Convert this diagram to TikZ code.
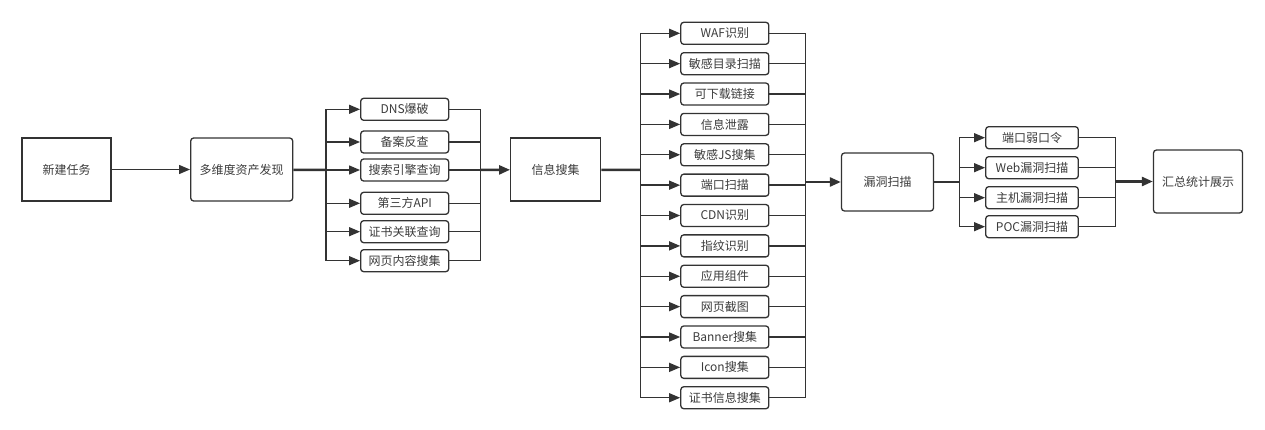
\documentclass[tikz,border=0pt]{standalone}
\usepackage{fontspec}
\setmainfont{Noto Sans CJK SC}
\usetikzlibrary{arrows.meta}
\definecolor{linegray}{HTML}{333333}
\definecolor{textgray}{HTML}{3C3C3C}
\begin{document}
\begin{tikzpicture}[x=1pt,y=-1pt,>={Triangle[length=11pt,width=9pt]}]
        \tikzstyle{stage}=[draw=linegray,line width=1.3pt,fill=white,text=textgray,font=\fontsize{12}{14}\selectfont,inner sep=0pt,minimum height=63pt]
        \tikzstyle{task}=[stage,rounded corners=3pt,minimum width=88pt,minimum height=22pt]
        \tikzstyle{link}=[draw=linegray,line width=1.3pt]
        \tikzstyle{trunk}=[draw=linegray,line width=2.5pt]
        \useasboundingbox (0,0) rectangle (1265,430);
       % main stages
         \node [stage,minimum width=89pt] (newtask) at (66.5,169.5) {新建任务};
         \node [stage,rounded corners=3pt,minimum width=102pt] (discover) at (241.7,169.5) {多维度资产发现};
         \node [stage,minimum width=90pt] (collect) at (555.7,169.5) {信息搜集};
         \node [stage,rounded corners=3pt,minimum width=92pt,minimum height=58pt] (vulnscan) at (887.5,182) {漏洞扫描};
         \node [stage,rounded corners=3pt,minimum width=89pt] (summary) at (1198,181.5) {汇总统计展示};
       % bus points
         \coordinate (split1) at (326,170);
         \coordinate (join1) at (480.7,170);
         \coordinate (split2) at (640.7,170);
         \coordinate (join2) at (805.3,182);
         \coordinate (split3) at (959.3,182);
         \coordinate (join3) at (1115.7,181.5);
       % discovery tasks
         \node [task] (dns) at (404.7,109.3) {DNS爆破};
         \node [task] (beian) at (404.7,142) {备案反查};
         \node [task] (engine) at (404.7,170) {搜索引擎查询};
         \node [task] (thirdapi) at (404.7,203.3) {第三方API};
         \node [task] (certlink) at (404.7,231.7) {证书关联查询};
         \node [task] (webpage) at (404.7,260.7) {网页内容搜集};
         \foreach \t in {dns,beian,engine,thirdapi,certlink,webpage} {
           \draw[link,->] (split1) |- (\t.west);
           \draw[link] (\t.east) -| (join1);
         }
       % collection tasks
         \foreach \t/\txt [count=\i] in {waf/WAF识别,dir/敏感目录扫描,download/可下载链接,leak/信息泄露,js/敏感JS搜集,port/端口扫描,cdn/CDN识别,finger/指纹识别,component/应用组件,shot/网页截图,banner/Banner搜集,icon/Icon搜集,certinfo/证书信息搜集} {
           \node [task] (\t) at (724.8,{33.3+30.37*(\i-1)}) {\txt};
           \draw[link,->] (split2) |- (\t.west);
           \draw[link] (\t.east) -| (join2);
         }
       % scan tasks
         \node [task,minimum width=92.6pt] (weakpass) at (1032,137.7) {端口弱口令};
         \node [task,minimum width=92.6pt] (webvuln) at (1032,167.7) {Web漏洞扫描};
         \node [task,minimum width=92.6pt] (hostvuln) at (1032,197.7) {主机漏洞扫描};
         \node [task,minimum width=92.6pt] (poc) at (1032,226.7) {POC漏洞扫描};
         \foreach \t in {weakpass,webvuln,hostvuln,poc} {
           \draw[link,->] (split3) |- (\t.west);
           \draw[link] (\t.east) -| (join3);
         }
       % trunk lines
         \draw[link,->] (newtask) -- (discover);
         \draw[trunk] (discover) -- (split1);
         \draw[trunk,->] (join1) -- (collect);
         \draw[trunk] (collect) -- (split2);
         \draw[trunk,->] (join2) -- (vulnscan);
         \draw[trunk] (vulnscan) -- (split3);
         \draw[trunk,->] (join3) -- (summary);
      \end{tikzpicture}
\end{document}
